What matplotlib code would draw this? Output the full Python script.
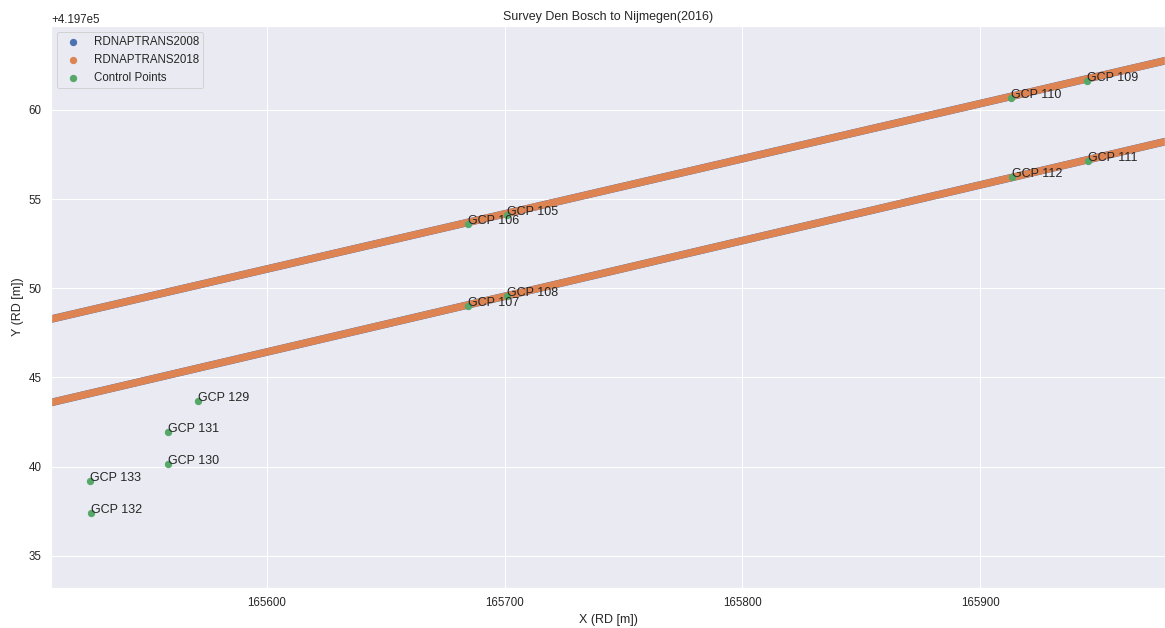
import numpy as np
import matplotlib
matplotlib.use('agg')
import matplotlib.pyplot as plt
import seaborn as sns

# track centre lines (RD coordinates)
track_north_x = [165500.0, 165700.0, 165990.0]
track_north_y = [419747.99, 419754.17, 419763.13]
track_south_x = [165500.0, 165700.0, 165990.0]
track_south_y = [419743.31, 419749.55, 419758.60]

# ground control points
gcp_names = ["GCP 105", "GCP 106", "GCP 107", "GCP 108", "GCP 109", "GCP 110",
             "GCP 111", "GCP 112", "GCP 129", "GCP 130", "GCP 131", "GCP 132", "GCP 133"]
gcp_x = [165701.1, 165684.4, 165684.4, 165700.8, 165944.8, 165913.0,
         165945.2, 165913.3, 165571.0, 165558.5, 165558.2, 165525.9, 165525.5]
gcp_y = [419754.11, 419753.61, 419749.01, 419749.57, 419761.63, 419760.69,
         419757.14, 419756.21, 419743.69, 419740.14, 419741.97, 419737.41, 419739.22]

sns.set_theme()
plt.rcParams['font.family'] = ['Liberation Sans', 'DejaVu Sans']
pal = sns.color_palette()

fig = plt.figure(figsize=(1165 / 72, 628 / 72), dpi=72)
ax = fig.add_axes([51 / 1165, 1 - 588 / 628, 1 - 51 / 1165, (588 - 26) / 628])

# RDNAPTRANS2008 hidden under RDNAPTRANS2018
for tx, ty in [(track_north_x, track_north_y), (track_south_x, track_south_y)]:
    ax.plot(tx, ty, color=pal[0], lw=7.6, solid_capstyle='butt')
    ax.plot(tx, ty, color=pal[1], lw=7.3, solid_capstyle='butt')

# empty scatters only for the legend entries
ax.scatter([], [], color=pal[0], s=40, label='RDNAPTRANS2008')
ax.scatter([], [], color=pal[1], s=40, label='RDNAPTRANS2018')
ax.scatter(gcp_x, gcp_y, color=pal[2], s=40, label='Control Points', zorder=3)
for name, x, y in zip(gcp_names, gcp_x, gcp_y):
    ax.annotate(name, (x, y), fontsize=12.5, color='#262626')

ax.set_xlim(165509.1, 165977.8)
ax.set_ylim(419733.2, 419764.7)
ax.set_xticks([165600, 165700, 165800, 165900])
ax.set_yticks([419735, 419740, 419745, 419750, 419755, 419760])
ax.tick_params(labelsize=11.5)
ax.yaxis.get_offset_text().set_fontsize(11.5)
ax.set_xlabel('X (RD [m])', fontsize=12.5)
ax.set_ylabel('Y (RD [m])', fontsize=12.5)
ax.set_title('Survey Den Bosch to Nijmegen(2016)', fontsize=12.5)
ax.legend(loc='upper left', fontsize=11.5)

fig.savefig('out.png', dpi=72)
